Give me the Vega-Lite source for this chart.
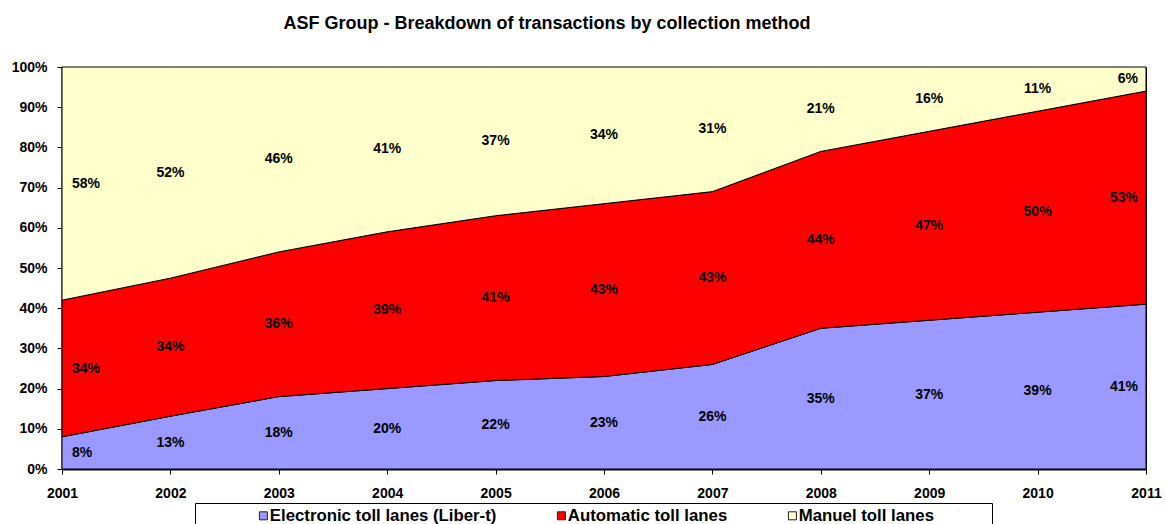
{
  "$schema": "https://vega.github.io/schema/vega-lite/v6.json",
  "width": 1084,
  "height": 402,
  "autosize": {"type": "none"},
  "padding": {"left": 62, "top": 67, "right": 19, "bottom": 55},
  "background": "white",
  "config": {
    "font": "Liberation Sans",
    "view": {"stroke": "black", "strokeWidth": 1},
    "axis": {"labelFont": "Liberation Sans", "labelFontWeight": "bold", "labelColor": "black", "labelFontSize": 14, "grid": false, "domainColor": "black", "domainWidth": 2, "tickColor": "black", "tickSize": 5, "title": null, "labelFlush": false, "labelOverlap": false}
  },
  "title": {"text": "ASF Group - Breakdown of transactions by collection method", "font": "Liberation Sans", "fontSize": 18, "fontWeight": "bold", "color": "black", "anchor": "middle", "frame": "group", "offset": 27, "dx": -57},
  "data": {"values": [
    {"year": 2001, "series": "Electronic toll lanes (Liber-t)", "rank": 1, "value": 8},
    {"year": 2002, "series": "Electronic toll lanes (Liber-t)", "rank": 1, "value": 13},
    {"year": 2003, "series": "Electronic toll lanes (Liber-t)", "rank": 1, "value": 18},
    {"year": 2004, "series": "Electronic toll lanes (Liber-t)", "rank": 1, "value": 20},
    {"year": 2005, "series": "Electronic toll lanes (Liber-t)", "rank": 1, "value": 22},
    {"year": 2006, "series": "Electronic toll lanes (Liber-t)", "rank": 1, "value": 23},
    {"year": 2007, "series": "Electronic toll lanes (Liber-t)", "rank": 1, "value": 26},
    {"year": 2008, "series": "Electronic toll lanes (Liber-t)", "rank": 1, "value": 35},
    {"year": 2009, "series": "Electronic toll lanes (Liber-t)", "rank": 1, "value": 37},
    {"year": 2010, "series": "Electronic toll lanes (Liber-t)", "rank": 1, "value": 39},
    {"year": 2011, "series": "Electronic toll lanes (Liber-t)", "rank": 1, "value": 41},
    {"year": 2001, "series": "Automatic toll lanes", "rank": 2, "value": 34},
    {"year": 2002, "series": "Automatic toll lanes", "rank": 2, "value": 34},
    {"year": 2003, "series": "Automatic toll lanes", "rank": 2, "value": 36},
    {"year": 2004, "series": "Automatic toll lanes", "rank": 2, "value": 39},
    {"year": 2005, "series": "Automatic toll lanes", "rank": 2, "value": 41},
    {"year": 2006, "series": "Automatic toll lanes", "rank": 2, "value": 43},
    {"year": 2007, "series": "Automatic toll lanes", "rank": 2, "value": 43},
    {"year": 2008, "series": "Automatic toll lanes", "rank": 2, "value": 44},
    {"year": 2009, "series": "Automatic toll lanes", "rank": 2, "value": 47},
    {"year": 2010, "series": "Automatic toll lanes", "rank": 2, "value": 50},
    {"year": 2011, "series": "Automatic toll lanes", "rank": 2, "value": 53},
    {"year": 2001, "series": "Manuel toll lanes", "rank": 3, "value": 58},
    {"year": 2002, "series": "Manuel toll lanes", "rank": 3, "value": 52},
    {"year": 2003, "series": "Manuel toll lanes", "rank": 3, "value": 46},
    {"year": 2004, "series": "Manuel toll lanes", "rank": 3, "value": 41},
    {"year": 2005, "series": "Manuel toll lanes", "rank": 3, "value": 37},
    {"year": 2006, "series": "Manuel toll lanes", "rank": 3, "value": 34},
    {"year": 2007, "series": "Manuel toll lanes", "rank": 3, "value": 31},
    {"year": 2008, "series": "Manuel toll lanes", "rank": 3, "value": 21},
    {"year": 2009, "series": "Manuel toll lanes", "rank": 3, "value": 16},
    {"year": 2010, "series": "Manuel toll lanes", "rank": 3, "value": 11},
    {"year": 2011, "series": "Manuel toll lanes", "rank": 3, "value": 6}
  ]},
  "transform": [
    {"stack": "value", "groupby": ["year"], "sort": [{"field": "rank", "order": "ascending"}], "offset": "normalize", "as": ["y0", "y1"]},
    {"calculate": "(datum.y0 + datum.y1) / 2", "as": "ymid"},
    {"calculate": "datum.value + '%'", "as": "label"}
  ],
  "encoding": {
    "x": {"field": "year", "type": "quantitative", "scale": {"domain": [2001, 2011], "nice": false, "zero": false},
      "axis": {"values": [2001, 2002, 2003, 2004, 2005, 2006, 2007, 2008, 2009, 2010, 2011], "format": "d", "labelPadding": 12}}
  },
  "layer": [
    {
      "mark": {"type": "area", "stroke": "black", "strokeWidth": 1, "opacity": 1, "fillOpacity": 1},
      "encoding": {
        "y": {"field": "y0", "type": "quantitative", "scale": {"domain": [0, 1], "nice": false},
          "axis": {"values": [0, 0.1, 0.2, 0.3, 0.4, 0.5, 0.6, 0.7, 0.8, 0.9, 1], "format": ".0%", "labelPadding": 10}},
        "y2": {"field": "y1"},
        "order": {"field": "rank"},
        "color": {"field": "series", "type": "nominal",
          "scale": {"domain": ["Electronic toll lanes (Liber-t)", "Automatic toll lanes", "Manuel toll lanes"], "range": ["#9999FF", "#FF0000", "#FFFFCC"]},
          "legend": {"title": "\u00a0", "titleOrient": "right", "titlePadding": 54, "titleFontSize": 10, "orient": "none", "legendX": 133, "legendY": 436, "direction": "horizontal",
            "strokeColor": "black", "padding": 4, "columnPadding": -2, "symbolType": "square", "symbolSize": 64,
            "symbolStrokeColor": "#222222", "symbolStrokeWidth": 1, "symbolOpacity": 1, "symbolOffset": 56,
            "labelFont": "Liberation Sans", "labelFontWeight": "bold", "labelFontSize": 16.8, "labelColor": "black", "labelLimit": 400, "labelOffset": -2,
            "fillColor": "white"}
        }
      }
    },
    {
      "transform": [{"filter": "datum.year > 2001 && datum.year < 2011"}],
      "mark": {"type": "text", "font": "Liberation Sans", "fontWeight": "bold", "fontSize": 14, "color": "black", "align": "center", "baseline": "middle"},
      "encoding": {"y": {"field": "ymid", "type": "quantitative"}, "text": {"field": "label"}}
    },
    {
      "transform": [{"filter": "datum.year == 2001"}],
      "mark": {"type": "text", "font": "Liberation Sans", "fontWeight": "bold", "fontSize": 14, "color": "black", "align": "left", "baseline": "middle", "dx": 10},
      "encoding": {"y": {"field": "ymid", "type": "quantitative"}, "text": {"field": "label"}}
    },
    {
      "transform": [{"filter": "datum.year == 2011"}],
      "mark": {"type": "text", "font": "Liberation Sans", "fontWeight": "bold", "fontSize": 14, "color": "black", "align": "right", "baseline": "middle", "dx": -8},
      "encoding": {"y": {"field": "ymid", "type": "quantitative"}, "text": {"field": "label"}}
    }
  ]
}
